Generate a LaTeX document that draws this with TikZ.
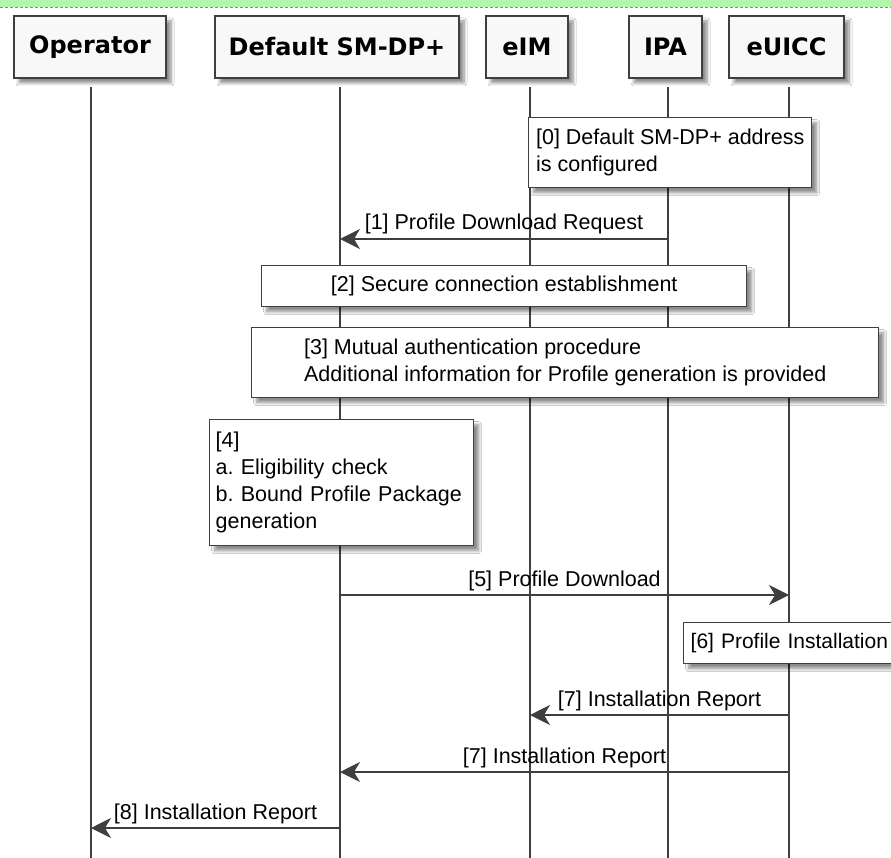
\documentclass[tikz,border=0pt]{standalone}
\usepackage{fontspec}
\setmainfont{Liberation Sans}
\newfontfamily\headfont{DejaVu Sans}
\usetikzlibrary{arrows.meta,shadows.blur}
\definecolor{edge}{HTML}{3F3F3F}
\definecolor{headfill}{HTML}{F8F8F8}
\definecolor{bandfill}{HTML}{B4F5AE}
\definecolor{banddash}{HTML}{5FA85A}
\frenchspacing

\begin{document}
\begin{tikzpicture}[x=1pt,y=-1pt,
  softshadow/.style={blur shadow={shadow xshift=5pt,shadow yshift=-5pt,
      shadow blur steps=8,shadow blur radius=3pt,shadow opacity=45}},
  participant/.style={draw=edge,line width=2pt,fill=headfill,inner sep=0pt,
      minimum height=62pt,anchor=north west,
      font=\headfont\bfseries\fontsize{24}{28}\selectfont,softshadow},
  notebox/.style={draw=edge,line width=1.4pt,fill=white,inner xsep=6pt,
      inner ysep=0pt,anchor=north west,
      font=\fontsize{21.5}{27}\selectfont\frenchspacing,softshadow},
  lifeline/.style={draw=edge,line width=1.3pt},
  msg/.style={draw=edge,line width=1.5pt,
      -{Stealth[length=20pt,width=20pt,inset=6pt]}},
  msglabel/.style={midway,anchor=base,yshift=9pt,inner sep=0pt,
      font=\fontsize{21.5}{27}\selectfont}
]
\clip (0,0) rectangle (891,858);
\fill[white] (0,0) rectangle (891,858);

% header band
\fill[bandfill] (0,0) rectangle (891,7.5);
\draw[banddash,line width=1pt,dash pattern=on 3pt off 2pt] (0,7.5) -- (891,7.5);

% participants
\node[participant,minimum width=152pt] (op)    at (13,15)  {Operator};
\node[participant,minimum width=244pt] (dp)    at (214,15) {Default SM-DP+};
\node[participant,minimum width=82pt]  (eim)   at (485,15) {eIM};
\node[participant,minimum width=73pt]  (ipa)   at (628,15) {IPA};
\node[participant,minimum width=115pt] (euicc) at (728,15) {eUICC};

% lifelines
\coordinate (opT) at (91,87);     \coordinate (opB) at (91,860);
\coordinate (dpT) at (340,87);    \coordinate (dpB) at (340,860);
\coordinate (eimT) at (530,87);   \coordinate (eimB) at (530,860);
\coordinate (ipaT) at (668,87);   \coordinate (ipaB) at (668,860);
\coordinate (euT) at (789,87);    \coordinate (euB) at (789,860);
\draw[lifeline] (opT) -- (opB);
\draw[lifeline] (dpT) -- (dpB);
\draw[lifeline] (eimT) -- (eimB);
\draw[lifeline] (ipaT) -- (ipaB);
\draw[lifeline] (euT) -- (euB);

% notes
\node[notebox,minimum width=283pt,minimum height=70pt,align=left] (n0) at (528,117)
  {[0] Default SM-DP+ address\\is configured};
\node[notebox,minimum width=485pt,minimum height=41pt,align=center] (n2) at (261,265)
  {[2] Secure connection establishment};
\node[notebox,minimum width=627pt,minimum height=70pt,align=left] (n3) at (251,327)
  {[3] Mutual authentication procedure\\Additional information for Profile generation is provided};
\node[notebox,text width=252pt,inner xsep=6pt,minimum height=126pt,align=left] (n4) at (209,419)
  {[4]\\a. Eligibility check\\b. Bound Profile Package\\generation};
\node[notebox,text width=215pt,inner xsep=7pt,minimum height=41pt,align=left,
      font=\fontsize{21}{27}\selectfont] (n6) at (683,622)
  {[6] Profile Installation};

% messages
\coordinate (m1a) at (668,239); \coordinate (m1b) at (340,239);
\draw[msg] (m1a) -- node[msglabel] {[1] Profile Download Request} (m1b);

\coordinate (m5a) at (340,595); \coordinate (m5b) at (789,595);
\draw[msg] (m5a) -- node[msglabel] {[5] Profile Download} (m5b);

\coordinate (m7a) at (789,715); \coordinate (m7b) at (530,715);
\draw[msg] (m7a) -- node[msglabel] {[7] Installation Report} (m7b);

\coordinate (m7c) at (789,772); \coordinate (m7d) at (340,772);
\draw[msg] (m7c) -- node[msglabel] {[7] Installation Report} (m7d);

\coordinate (m8a) at (340,828); \coordinate (m8b) at (91,828);
\draw[msg] (m8a) -- node[msglabel] {[8] Installation Report} (m8b);
\end{tikzpicture}
\end{document}
